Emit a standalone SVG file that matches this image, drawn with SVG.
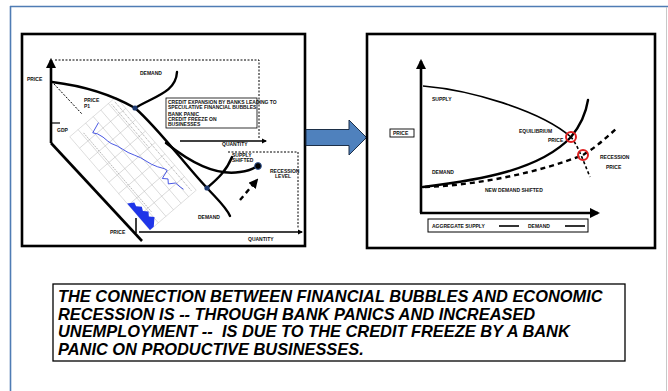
<svg xmlns="http://www.w3.org/2000/svg" width="668" height="391" viewBox="0 0 668 391">
  <defs>
    <marker id="ah" viewBox="0 0 10 10" refX="8" refY="5" markerWidth="4" markerHeight="4" orient="auto-start-reverse">
      <path d="M0,0 L10,5 L0,10 z" fill="#000"/>
    </marker>
    <style>
      .panel { fill: #fff; stroke: #000; stroke-width: 2.6; }
      .axis { fill: none; stroke: #000; stroke-width: 2.6; }
      .curve { fill: none; stroke: #000; stroke-width: 2.4; stroke-linecap: round; }
      .dcurve { fill: none; stroke: #000; stroke-width: 2.4; stroke-dasharray: 5 4; }
      .thin { fill: none; stroke: #000; stroke-width: 1; stroke-dasharray: 2 1.5; }
      .lbl { font-family: "Liberation Sans", Arial, sans-serif; font-weight: bold; font-size: 5px; fill: #111; }
      .grid { stroke: #bbb; stroke-width: 0.5; fill: none; }
      .note { font-family: "Liberation Sans", Arial, sans-serif; font-weight: bold; font-style: italic; font-size: 16.4px; fill: #000; }
    </style>
  </defs>

  <!-- page frame -->
  <g id="frame">
    <rect x="0" y="0" width="668" height="391" fill="#fff"/>
    <line x1="10" y1="6.5" x2="668" y2="6.5" stroke="#4f7cb4" stroke-width="1.6"/>
    <line x1="10.5" y1="6" x2="10.5" y2="391" stroke="#4f7cb4" stroke-width="1.6"/>
    <line x1="666.5" y1="7" x2="666.5" y2="391" stroke="#c8c8c8" stroke-width="1"/>
  </g>

  <!-- left chart: bubble and recession -->
  <g id="bubble-chart">
    <rect class="panel" x="22" y="34" width="283" height="212"/>
    <!-- axes -->
    <line class="axis" x1="51" y1="143" x2="51" y2="60" marker-end="url(#ah)"/>
    <line class="axis" x1="51" y1="143" x2="142" y2="241"/>
    <line x1="136" y1="218" x2="136" y2="233" stroke="#000" stroke-width="1.5"/>
    <line x1="139" y1="232" x2="302" y2="232" stroke="#000" stroke-width="1.3" marker-end="url(#ah)"/>
    <line x1="180" y1="141" x2="266" y2="141" stroke="#000" stroke-width="1.3" marker-end="url(#ah)"/>
    <!-- dashed guides -->
    <polyline class="thin" points="55,60 259,60 259,139"/>
    <polyline class="thin" stroke="#555" points="228,152 298,152 298,229"/>
    <line x1="52" y1="123" x2="60" y2="123" stroke="#000" stroke-width="1.2"/>
    <line class="thin" x1="54" y1="84" x2="82" y2="114"/>

    <!-- rotated price/volume inset -->
    <g transform="translate(116,97) rotate(49.3)">
      <rect x="0" y="0" width="123" height="61" fill="#fff" stroke="#ccc" stroke-width="0.6"/>
      <path class="grid" d="M15,0V61M30,0V61M45,0V61M60,0V61M75,0V61M90,0V61M105,0V61M0,10H123M0,20H123M0,30H123M0,40H123M0,50H123"/>
      <path d="M3,4H120M3,8H60" stroke="#777" stroke-width="0.6" stroke-dasharray="1 1"/>
      <path d="M6,48H110" stroke="#888" stroke-width="0.6" stroke-dasharray="1.5 1"/>
      <polyline fill="none" stroke="#2f3fe0" stroke-width="0.8" points="8,30 12,41 16,38 22,36 28,35 32,34 38,31 44,29 50,27 56,24 62,21 68,19 74,17 80,14 86,10 89,9 92,18 96,14 100,17 104,11 110,10 114,9"/>
      <path d="M88,61 L92,55 L96,56 L100,52 L104,54 L108,50 L112,53 L116,49 L120,53 L123,56 L123,61 Z" fill="#1f35e8"/>
    </g>

    <!-- curves -->
    <path class="curve" d="M52,82 C85,86 112,95 135,108 C160,130 185,165 207,188 C218,200 226,207 230,216"/>
    <path class="curve" d="M135,108 C155,96 176,92 177,72"/>
    <path class="curve" d="M232,157 C226,172 216,180 207,188"/>
    <path class="curve" d="M166,143 C190,162 215,176 240,172 C248,171 253,169 257,166"/>
    <path class="dcurve" d="M240,200 L257,180" marker-end="url(#ah)"/>
    <circle cx="135" cy="108" r="2.6" fill="#1e3a70"/>
    <circle cx="207" cy="188" r="2.6" fill="#1e3a70"/>
    <circle cx="258" cy="166" r="3.4" fill="#000" stroke="#3a5fa0" stroke-width="1"/>

    <!-- labels -->
    <text class="lbl" x="27" y="81">PRICE</text>
    <text class="lbl" x="140" y="75">DEMAND</text>
    <text class="lbl" x="84" y="102" font-size="3.5">PRICE</text>
    <text class="lbl" x="84" y="108" font-size="3.5">P1</text>
    <text class="lbl" x="57" y="132">GDP</text>
    <rect x="166" y="98" width="91" height="30" fill="#fff" stroke="#000" stroke-width="0.8"/>
    <text class="lbl" x="168" y="104" font-size="4">CREDIT EXPANSION BY BANKS LEADING TO</text>
    <text class="lbl" x="168" y="109" font-size="4">SPECULATIVE FINANCIAL BUBBLES</text>
    <text class="lbl" x="168" y="116" font-size="4">BANK PANIC</text>
    <text class="lbl" x="168" y="121" font-size="4">CREDIT FREEZE ON</text>
    <text class="lbl" x="168" y="126" font-size="4">BUSINESSES</text>
    <text class="lbl" x="222" y="146">QUANTITY</text>
    <text class="lbl" x="232" y="157">SUPPLY</text>
    <text class="lbl" x="232" y="162">SHIFTED</text>
    <text class="lbl" x="270" y="173" font-size="4">RECESSION</text>
    <text class="lbl" x="275" y="178" font-size="4">LEVEL</text>
    <text class="lbl" x="198" y="219">DEMAND</text>
    <text class="lbl" x="110" y="234">PRICE</text>
    <text class="lbl" x="248" y="241">QUANTITY</text>
  </g>

  <!-- block arrow between charts -->
  <g id="link">
    <path d="M306,129.5 H349 V120 L366.5,137.5 L349,155 V145.5 H306 Z" fill="#4f81bd" stroke="#1c2f48" stroke-width="1"/>
  </g>

  <!-- right chart: equilibrium vs recession price -->
  <g id="market-chart">
    <rect class="panel" x="367" y="34" width="288" height="214"/>
    <line class="axis" x1="421" y1="213" x2="421" y2="61" marker-end="url(#ah)"/>
    <line class="axis" x1="420" y1="213" x2="598" y2="213" marker-end="url(#ah)"/>
    <rect x="390" y="129" width="24" height="8" fill="#fff" stroke="#000" stroke-width="0.9"/>
    <text class="lbl" x="393" y="135">PRICE</text>

    <!-- demand and supply curves -->
    <path d="M423,86 C470,90 540,110 571,137" fill="none" stroke="#000" stroke-width="1.6"/>
    <path d="M571,137 C578,146 583,160 590,177" fill="none" stroke="#000" stroke-width="1.6" stroke-dasharray="3 2.5"/>
    <path class="curve" d="M423,187 C480,180 540,170 571,137 C580,126 586,113 588,100"/>
    <path class="dcurve" d="M425,187 C480,185 540,172 583,155 C595,148 606,138 617,128"/>
    <circle cx="571" cy="137" r="5" fill="none" stroke="#e02020" stroke-width="2"/>
    <circle cx="583" cy="155" r="5" fill="none" stroke="#e02020" stroke-width="2"/>

    <text class="lbl" x="432" y="101">SUPPLY</text>
    <text class="lbl" x="432" y="174">DEMAND</text>
    <text class="lbl" x="519" y="133">EQUILIBRIUM</text>
    <text class="lbl" x="548" y="142">PRICE</text>
    <text class="lbl" x="600" y="159" font-size="4">RECESSION</text>
    <text class="lbl" x="606" y="169" font-size="4">PRICE</text>
    <text class="lbl" x="485" y="192">NEW DEMAND SHIFTED</text>

    <rect x="428" y="219" width="160" height="13" fill="#fff" stroke="#000" stroke-width="1"/>
    <text class="lbl" x="432" y="228">AGGREGATE SUPPLY</text>
    <line x1="499" y1="226" x2="519" y2="226" stroke="#000" stroke-width="1.6"/>
    <text class="lbl" x="528" y="228">DEMAND</text>
    <line x1="565" y1="226" x2="585" y2="226" stroke="#000" stroke-width="1.6"/>
  </g>

  <!-- caption -->
  <g id="caption">
    <rect x="53" y="284" width="572" height="77" fill="#fff" stroke="#000" stroke-width="1.3"/>
    <text class="note" x="58" y="302">THE CONNECTION BETWEEN FINANCIAL BUBBLES AND ECONOMIC</text>
    <text class="note" x="58" y="319.5">RECESSION IS -- THROUGH BANK PANICS AND INCREASED</text>
    <text class="note" x="58" y="337" xml:space="preserve">UNEMPLOYMENT --  IS DUE TO THE CREDIT FREEZE BY A BANK</text>
    <text class="note" x="58" y="354.5">PANIC ON PRODUCTIVE BUSINESSES.</text>
  </g>
</svg>
